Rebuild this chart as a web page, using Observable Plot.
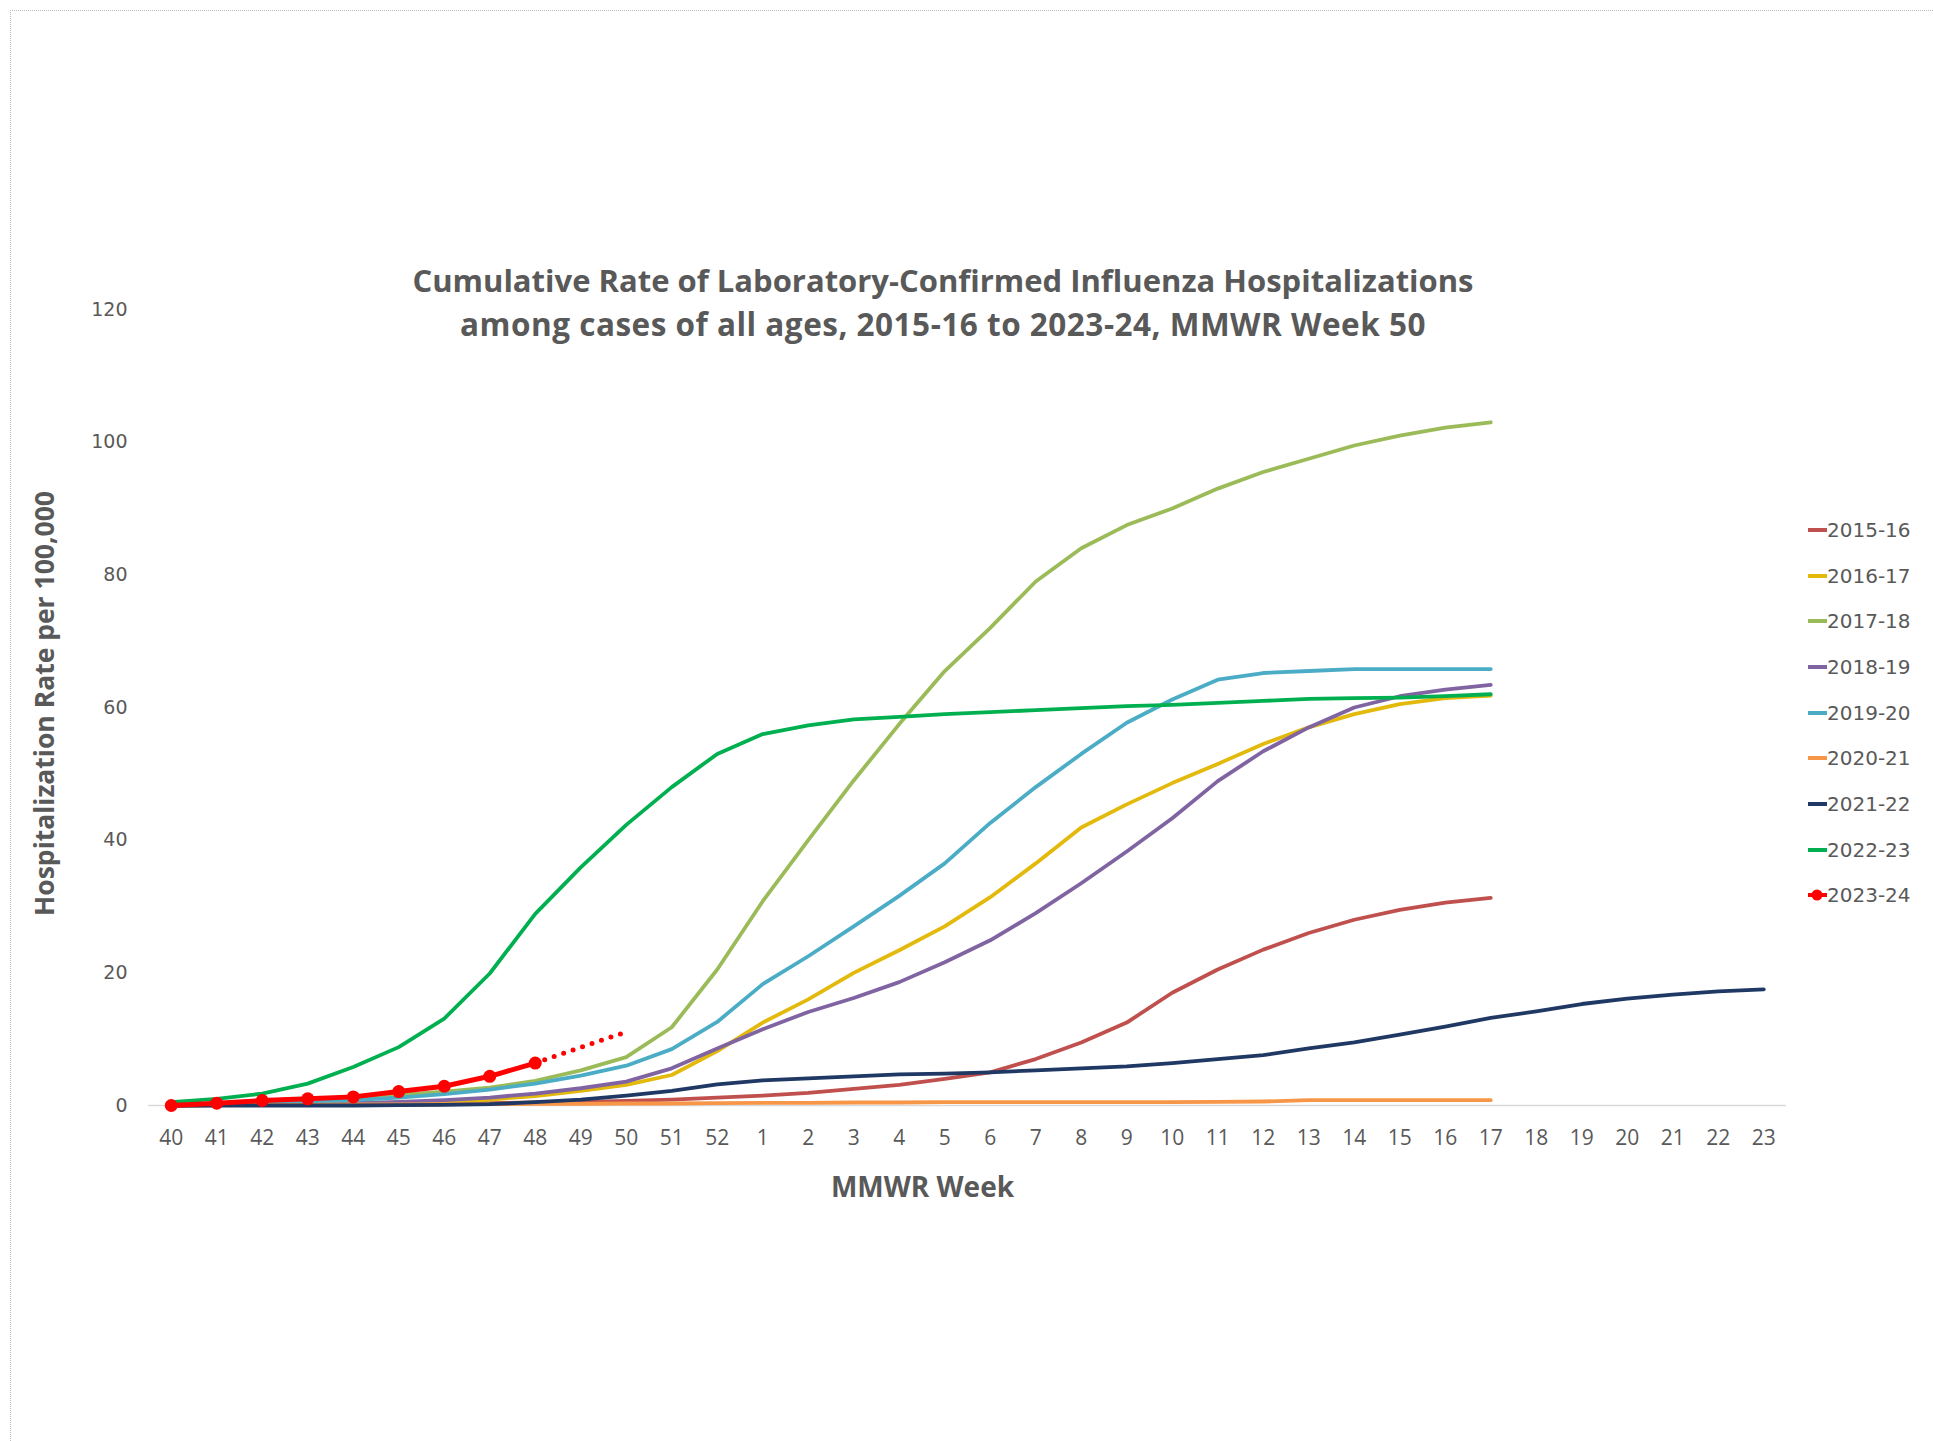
<!DOCTYPE html>
<html>
<head>
<meta charset="utf-8">
<script src="https://cdn.jsdelivr.net/npm/d3@7"></script>
<script src="https://cdn.jsdelivr.net/npm/@observablehq/plot@0.6"></script>
<style>
  body { margin: 0; background: #fff; }
  #page { position: relative; width: 1933px; height: 1441px; background: #fff; overflow: hidden; }
  #frame { position: absolute; left: 10px; top: 10px; right: -2px; bottom: -2px;
           border-top: 1px dotted #bdbdbd; border-left: 1px dotted #bdbdbd; }
  #chart { position: absolute; left: 0; top: 0; }
  #title { position: absolute; left: 0; width: 1886px; top: 258px; text-align: center;
           font-family: "Open Sans", sans-serif; font-weight: 700; font-size: 31px; line-height: 44px; color: #595959; }
  #title .l2 { font-size: 31.5px; letter-spacing: 0.5px; }
  #legend { position: absolute; left: 1808px; top: 507px; font-family: "DejaVu Sans", sans-serif;
            font-size: 20px; color: #595959; }
  .item { height: 45.7px; display: flex; align-items: center; }
  .item svg { display: block; }
</style>
</head>
<body>
<div id="page">
  <div id="frame"></div>
  <div id="chart"></div>
  <div id="title">Cumulative Rate of Laboratory-Confirmed Influenza Hospitalizations<br><span class="l2">among cases of all ages, 2015-16 to 2023-24, MMWR Week 50</span></div>
  <div id="legend"></div>
</div>
<script>
const weeks = ["40","41","42","43","44","45","46","47","48","49","50","51","52",
  "1","2","3","4","5","6","7","8","9","10","11","12","13","14","15","16","17",
  "18","19","20","21","22","23"];
const yTicks = [0, 20, 40, 60, 80, 100, 120];
const seasons = ["2015-16","2016-17","2017-18","2018-19","2019-20","2020-21","2021-22","2022-23","2023-24"];
const colors = ["#C0504D","#E3B90B","#9BBB59","#8064A2","#4BACC6","#F79646","#1F3864","#00B050","#FF0000"];

// values start at week 40, one per week
const s2015_16 = [0,0.05,0.1,0.15,0.2,0.25,0.3,0.35,0.45,0.55,0.7,0.9,1.2,
  1.5,1.9,2.5,3.1,4.0,5.0,7.0,9.5,12.5,17.0,20.5,23.5,26.0,28.0,29.5,30.6,31.3];
const s2016_17 = [0,0.05,0.1,0.2,0.3,0.4,0.6,0.9,1.4,2.2,3.1,4.6,8.2,
  12.5,16.0,20.0,23.4,27.0,31.4,36.5,41.9,45.4,48.6,51.5,54.5,57.0,59.0,60.5,61.4,61.8];
const s2017_18 = [0,0.2,0.4,0.7,1.1,1.6,2.1,2.7,3.7,5.3,7.3,11.8,20.5,
  30.8,40.0,49.0,57.5,65.5,72.0,79.0,84.0,87.5,90.0,93.0,95.5,97.5,99.5,101.0,102.2,103.0];
const s2018_19 = [0,0.05,0.1,0.2,0.35,0.55,0.8,1.2,1.8,2.6,3.6,5.6,8.6,
  11.5,14.1,16.2,18.6,21.6,24.9,29.0,33.5,38.3,43.3,48.9,53.4,57.0,60.0,61.7,62.7,63.4];
const s2019_20 = [0,0.1,0.3,0.5,0.8,1.2,1.7,2.4,3.3,4.5,6.0,8.5,12.6,
  18.3,22.5,27.0,31.6,36.5,42.6,48.0,53.0,57.7,61.2,64.2,65.2,65.5,65.8,65.8,65.8,65.8];
const s2020_21 = [0,0.05,0.1,0.1,0.15,0.15,0.2,0.2,0.25,0.25,0.3,0.3,0.35,
  0.4,0.4,0.45,0.45,0.5,0.5,0.5,0.5,0.5,0.5,0.55,0.6,0.8,0.8,0.8,0.8,0.8];
const s2021_22 = [0,0,0,0,0,0.05,0.1,0.2,0.5,0.9,1.5,2.2,3.2,
  3.8,4.1,4.4,4.7,4.8,5.0,5.3,5.6,5.9,6.4,7.0,7.6,8.6,9.5,10.7,11.9,13.2,
  14.2,15.3,16.1,16.7,17.2,17.5];
const s2022_23 = [0.5,1.0,1.8,3.3,5.8,8.8,13.1,19.9,28.9,35.9,42.3,48.0,53.0,
  56.0,57.3,58.2,58.6,59.0,59.3,59.6,59.9,60.2,60.4,60.7,61.0,61.3,61.4,61.5,61.7,62.0];
const s2023_24 = [0,0.35,0.75,1.0,1.3,2.1,2.9,4.4,6.4];
const projWeeks = ["48","50"];
const projValues = [6.4, 11.1];

const seriesValues = [s2015_16,s2016_17,s2017_18,s2018_19,s2019_20,s2020_21,s2021_22,s2022_23];

const table = [];
seriesValues.forEach((vals, si) => {
  vals.forEach((v, i) => table.push({season: seasons[si], week: weeks[i], rate: v}));
});
const current = s2023_24.map((v, i) => ({season: "2023-24", week: weeks[i], rate: v}));
const projection = projWeeks.map((w, i) => ({week: w, rate: projValues[i]}));

const chart = Plot.plot({
  width: 1933,
  height: 1441,
  marginLeft: 148,
  marginRight: 147,
  marginTop: 309,
  marginBottom: 336,
  style: {background: "transparent", color: "#595959"},
  x: {type: "point", domain: weeks, padding: 0.5, round: false},
  y: {domain: [0, 120]},
  color: {domain: seasons, range: colors},
  marks: [
    Plot.ruleY([0], {stroke: "#d9d9d9", strokeWidth: 1.5}),
    Plot.axisX({tickSize: 0, tickPadding: 25, fontSize: 21, fontFamily: "Open Sans", label: null}),
    Plot.axisY({ticks: yTicks, tickSize: 0, tickPadding: 21, fontSize: 19, fontFamily: "DejaVu Sans", label: null}),
    Plot.lineY(table, {x: "week", y: "rate", z: "season", stroke: "season", strokeWidth: 3.8, strokeLinejoin: "round"}),
    Plot.lineY(projection, {x: "week", y: "rate", stroke: "#FF0000", strokeWidth: 5, strokeDasharray: "0 10", strokeLinecap: "round"}),
    Plot.lineY(current, {x: "week", y: "rate", stroke: "#FF0000", strokeWidth: 5}),
    Plot.dot(current, {x: "week", y: "rate", fill: "#FF0000", r: 6.5}),
    Plot.text(["Hospitalization Rate per 100,000"], {frameAnchor: "left", dx: -103, dy: -4, rotate: -90,
      fontSize: 26.5, fontWeight: 700, fontFamily: "Open Sans", fill: "#595959", textAnchor: "middle"}),
    Plot.text(["MMWR Week"], {frameAnchor: "bottom", dx: -45, dy: 83, fontSize: 28, fontWeight: 700,
      fontFamily: "Open Sans", fill: "#595959", textAnchor: "middle", lineAnchor: "middle"})
  ]
});
document.getElementById("chart").appendChild(chart);

// legend
const legend = document.getElementById("legend");
seasons.forEach((s, i) => {
  const item = document.createElement("div");
  item.className = "item";
  const marker = s === "2023-24"
    ? `<circle cx="9" cy="7" r="5.5" fill="${colors[i]}"/>`
    : "";
  item.innerHTML = `<svg width="19" height="14"><line x1="0" x2="19" y1="7" y2="7" stroke="${colors[i]}" stroke-width="4"/>${marker}</svg><span>${s}</span>`;
  legend.appendChild(item);
});
</script>
</body>
</html>
